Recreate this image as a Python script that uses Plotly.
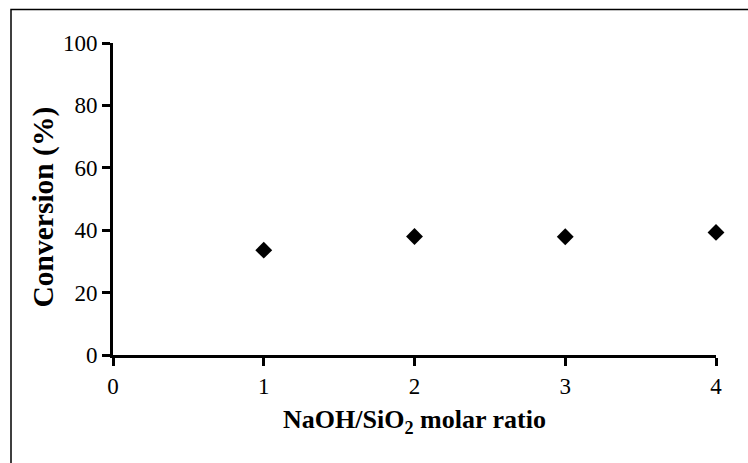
import plotly.graph_objects as go

ratio = [1, 2, 3, 4]
conversion = [33.6, 38.0, 37.9, 39.3]
x_ticks = [0, 1, 2, 3, 4]
y_ticks = [0, 20, 40, 60, 80, 100]

W, H = 748, 463
L, R, T, B = 113, 32, 43, 108
pw, ph = W - L - R, H - T - B

fig = go.Figure()
fig.add_trace(go.Scatter(
    x=ratio, y=conversion, mode="markers",
    marker=dict(symbol="diamond", size=13, color="black"),
    cliponaxis=False, showlegend=False,
))

font = dict(family="Liberation Serif, Times New Roman, serif", color="black")

fig.update_layout(
    width=W, height=H,
    margin=dict(l=L, r=R, t=T, b=B),
    paper_bgcolor="white", plot_bgcolor="white",
    font=dict(**font, size=23),
    xaxis=dict(
        range=[0, 4], tickvals=x_ticks, ticktext=[str(v) for v in x_ticks],
        showline=True, linecolor="black", linewidth=3,
        ticks="outside", ticklen=8, tickwidth=3, tickcolor="black",
        showgrid=False, zeroline=False,
        tickfont=dict(**font, size=23),
        title=dict(text="<b>NaOH/SiO<sub>2</sub> molar ratio</b>", font=dict(**font, size=26), standoff=13),
    ),
    yaxis=dict(
        range=[0, 100], tickvals=y_ticks, ticktext=[str(v) for v in y_ticks],
        showline=True, linecolor="black", linewidth=3,
        ticks="outside", ticklen=8, tickwidth=3, tickcolor="black",
        showgrid=False, zeroline=False,
        tickfont=dict(**font, size=23),
    ),
)

# y-axis title placed as annotation to match the reference position
fig.add_annotation(
    text="<b>Conversion (%)</b>", textangle=-90,
    xref="paper", yref="paper", x=(43 - L) / pw, y=(H - B - 207.5) / ph,
    xanchor="center", yanchor="middle", showarrow=False,
    font=dict(**font, size=29.5),
)

# outer frame (partially outside the canvas on right/bottom)
fig.add_shape(
    type="rect", xref="paper", yref="paper",
    x0=(11 - L) / pw, x1=1 + (W + 10 - (W - R)) / pw,
    y0=-(H + 10 - (H - B)) / ph, y1=1 + (T - 9.5) / ph,
    line=dict(color="black", width=1.5), layer="below",
)

fig.write_html("out.html", config={"displayModeBar": False},
               post_script="document.body.style.margin='0px';")
